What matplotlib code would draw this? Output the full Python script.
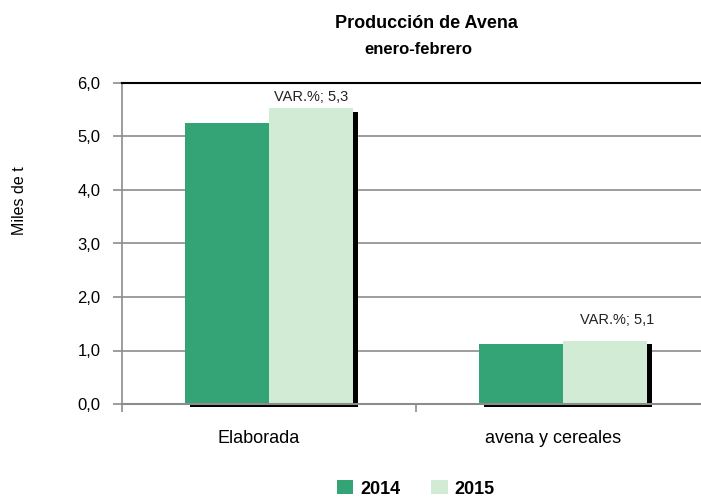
import matplotlib
matplotlib.use("Agg")
import matplotlib.pyplot as plt
import matplotlib.patheffects as pe
import matplotlib.transforms as mtransforms
import numpy as np

plt.rcParams['font.family'] = ['Liberation Sans', 'DejaVu Sans']

categories = ["Elaborada", "avena y cereales"]
years = ["2014", "2015"]
vals_2014 = [5.25, 1.12]
vals_2015 = [5.53, 1.18]
var_labels = ["VAR.%; 5,3", "VAR.%; 5,1"]
yticks = [0, 1, 2, 3, 4, 5, 6]
ytick_labels = ["0,0", "1,0", "2,0", "3,0", "4,0", "5,0", "6,0"]

c2014 = '#34A476'
c2015 = '#D2EBD4'
grid_c = '#8C8C8C'

fig = plt.figure(figsize=(7.01, 4.98), dpi=100)
# axes runs a bit past the right edge, like the original
ax = fig.add_axes([122/701, 1-404/498, (710-122)/701, (404-83)/498])

x = np.arange(len(categories))
w = 0.286
shadow = [pe.SimplePatchShadow(offset=(3.5, -2.5), shadow_rgbFace='black', alpha=1.0), pe.Normal()]
b1 = ax.bar(x - w/2, vals_2014, w, color=c2014, label=years[0], zorder=3, clip_on=False)
b2 = ax.bar(x + w/2, vals_2015, w, color=c2015, label=years[1], zorder=3, clip_on=False)
for bar in list(b1) + list(b2):
    bar.set_path_effects(shadow)

offsets = [(0, 3), (9, 10)]
for i, lab in enumerate(var_labels):
    ax.annotate(lab, (x[i] + w/2, vals_2015[i]), xytext=offsets[i], textcoords='offset points',
                ha='center', va='bottom', fontsize=10.5, color='#222222', zorder=5)

ax.set_xlim(-0.5, len(categories) - 0.5)
ax.set_ylim(0, 6)
ax.set_yticks(yticks)
ax.set_yticklabels(ytick_labels, fontsize=12)
ax.yaxis.grid(True, color=grid_c, linewidth=1.2, zorder=1)
ax.set_axisbelow(True)

ax.set_xticks(np.arange(len(categories) + 1) - 0.5)
ax.set_xticklabels([])
ax.set_xticks(x, minor=True)
ax.set_xticklabels(categories, minor=True, fontsize=13)
ax.tick_params(axis='x', which='minor', length=0, pad=19)
ax.tick_params(axis='x', which='major', direction='out', length=6, color=grid_c, width=1.2)
ax.tick_params(axis='y', direction='out', length=6.5, color=grid_c, width=1.2, pad=9)

# category labels sit a little left of the group centre in the original
shift = mtransforms.ScaledTranslation(-10/100, 0, fig.dpi_scale_trans)
for t in ax.get_xticklabels(minor=True):
    t.set_transform(t.get_transform() + shift)

ax.spines['left'].set_color(grid_c)
ax.spines['left'].set_linewidth(1.2)
ax.spines['bottom'].set_color(grid_c)
ax.spines['bottom'].set_linewidth(1.5)
ax.spines['bottom'].set_zorder(4)
ax.spines['top'].set_color('black')
ax.spines['top'].set_linewidth(1.5)
ax.spines['right'].set_visible(False)

fig.text(20/701, 1-201/498, "Miles de t", rotation=90, ha='center', va='center', fontsize=11.5)
fig.text(426/701, 1-24/498, "Producción de Avena", ha='center', va='center', fontsize=13, fontweight='bold')
fig.text(418/701, 1-50/498, "enero-febrero", ha='center', va='center', fontsize=12, fontweight='bold')

leg = fig.legend(handles=[b1, b2], labels=years, loc='center', bbox_to_anchor=(416/701, 1-489/498),
                 ncol=2, frameon=False, handlelength=0.9, handleheight=0.78, handletextpad=0.4,
                 columnspacing=1.7, prop={'size': 13, 'weight': 'bold'})
for h in leg.legend_handles:
    h.set_path_effects([])

fig.savefig("out.png", dpi=100)
